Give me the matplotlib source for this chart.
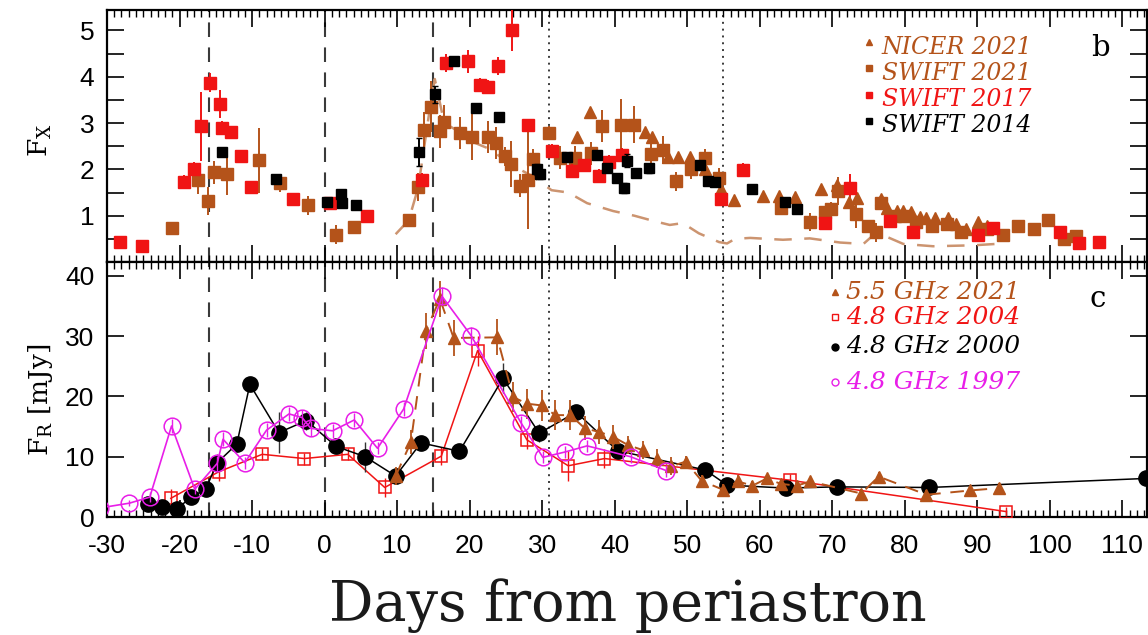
import matplotlib
matplotlib.use("Agg")
import matplotlib.pyplot as plt
from matplotlib import font_manager
from matplotlib.ticker import MultipleLocator, FixedLocator, FuncFormatter

# ---------------- X-ray fluxes (panel b) ----------------
nicer21_x = [34.8, 36.6, 44.2, 45.1, 47.3, 48.7, 50.4, 52.5, 54.6, 56.5, 60.5, 62.7, 64.9, 68.4, 70.6,
             72.3, 73.4, 76.7, 77.5, 78.9, 79.8, 80.8, 82.1, 83.0, 84.2, 85.9, 87.1, 88.5, 90.1, 91.3]
nicer21_y = [2.69, 3.23, 2.8, 2.7, 2.27, 2.27, 2.27, 2.0, 1.57, 1.34, 1.42, 1.42, 1.41, 1.57, 1.67,
             1.29, 1.39, 1.35, 1.17, 1.1, 1.1, 1.07, 0.97, 0.94, 0.94, 0.94, 0.81, 0.72, 0.86, 0.78]

swift21_x = [-21.1, -17.4, -16.1, -15.2, -13.5, -9.0, -6.2, -2.3, 1.6, 4.0, 11.6, 12.9, 13.7, 14.7, 15.9,
             16.5, 18.7, 20.3, 22.6, 23.7, 24.9, 25.7, 26.9, 28.1, 28.7, 30.9, 32.5, 34.6, 36.7, 38.2,
             40.9, 42.7, 45.0, 46.7, 48.5, 50.5, 52.5, 54.4, 62.9, 67.0, 69.0, 69.9, 70.8, 73.3, 75.0,
             76.1, 76.7, 78.6, 79.9, 81.6, 83.7, 85.8, 87.8, 91.3, 93.6, 95.6, 97.8, 99.7, 101.9, 103.6]
swift21_y = [0.74, 1.76, 1.32, 1.94, 1.89, 2.2, 1.71, 1.22, 0.59, 0.76, 0.91, 1.62, 2.84, 3.35, 2.82,
             3.03, 2.78, 2.7, 2.7, 2.57, 2.28, 2.12, 1.65, 1.77, 2.23, 2.78, 2.25, 2.25, 2.35, 2.93,
             2.96, 2.96, 2.34, 2.42, 1.74, 2.0, 2.25, 1.82, 1.17, 0.86, 1.07, 1.15, 1.53, 1.03, 0.78,
             0.64, 1.27, 0.99, 1.0, 0.86, 0.78, 0.82, 0.64, 0.72, 0.58, 0.77, 0.72, 0.91, 0.49, 0.56]
swift21_err = [0.1, 0.3, 0.3, 0.25, 0.45, 0.7, 0.2, 0.2, 0.2, 0.1, 0.1, 0.3, 0.4, 0.55, 0.35,
               0.35, 0.35, 0.5, 0.35, 0.35, 0.2, 0.5, 0.25, 1.05, 0.2, 0.15, 0.25, 0.25, 0.25, 0.35,
               0.55, 0.4, 0.2, 0.3, 0.2, 0.2, 0.2, 0.2, 0.15, 0.2, 0.1, 0.15, 0.3, 0.3, 0.1,
               0.2, 0.15, 0.1, 0.1, 0.1, 0.1, 0.1, 0.1, 0.08, 0.08, 0.08, 0.08, 0.1, 0.1, 0.1]

swift17_x = [-28.2, -25.2, -19.4, -18.0, -17.0, -15.8, -14.4, -14.2, -12.9, -11.5, -10.1, -4.4, 0.7,
             5.9, 13.4, 16.8, 19.8, 21.5, 22.6, 23.9, 25.8, 28.1, 31.3, 34.1, 35.8, 37.9, 39.2, 41.0,
             54.6, 57.7, 69.0, 72.5, 77.9, 81.1, 90.1, 92.2, 101.4, 104.0, 106.8]
swift17_y = [0.44, 0.35, 1.73, 2.0, 2.93, 3.87, 3.41, 2.9, 2.8, 2.28, 1.62, 1.35, 1.27,
             0.99, 1.78, 4.3, 4.33, 3.82, 3.77, 4.23, 5.0, 2.96, 2.39, 1.96, 2.1, 1.85, 2.15, 2.32,
             1.35, 1.98, 0.84, 1.6, 0.89, 0.64, 0.58, 0.74, 0.65, 0.42, 0.44]
swift17_err = [0.05, 0.05, 0.15, 0.15, 0.75, 0.2, 0.3, 0.15, 0.1, 0.1, 0.1, 0.08, 0.08,
               0.1, 0.15, 0.2, 0.25, 0.15, 0.15, 0.2, 0.45, 0.1, 0.15, 0.15, 0.12, 0.15, 0.15, 0.15,
               0.1, 0.15, 0.1, 0.3, 0.1, 0.1, 0.08, 0.08, 0.1, 0.08, 0.08]

swift14_x = [-14.2, -6.7, 0.3, 2.2, 2.4, 4.4, 13.0, 15.2, 17.9, 20.9, 24.1, 29.3, 29.7, 33.4,
             37.6, 38.9, 40.3, 41.3, 41.7, 43.0, 44.7, 51.8, 52.9, 53.9, 58.9, 63.5, 65.1]
swift14_y = [2.37, 1.8, 1.3, 1.46, 1.28, 1.23, 2.37, 3.62, 4.33, 3.32, 3.14, 2.0, 1.89, 2.26,
             2.32, 2.03, 1.82, 1.6, 2.19, 1.92, 2.02, 2.1, 1.74, 1.72, 1.57, 1.29, 1.15]
swift14_err = [0.08, 0.06, 0.06, 0.06, 0.06, 0.06, 0.3, 0.18, 0.06, 0.06, 0.06, 0.12, 0.1, 0.06,
               0.06, 0.08, 0.06, 0.1, 0.15, 0.06, 0.1, 0.06, 0.06, 0.06, 0.05, 0.05, 0.05]

model_x = [9.8, 11.6, 12.9, 13.8, 14.6, 15.2, 16.5, 18.7, 20.3, 22.6, 24.9, 26.9, 28.7, 30.0, 31.3,
           33.6, 36.2, 39.8, 42.7, 45.5, 47.6, 49.4, 51.6, 54.4, 55.5, 56.6, 58.7, 63.2, 66.9, 71.1,
           74.3, 76.1, 79.8, 83.9, 89.4, 92.6]
model_y = [0.6, 0.9, 1.6, 2.55, 3.4, 3.95, 3.0, 2.8, 2.6, 2.45, 2.2, 2.0, 1.85, 1.7, 1.55,
           1.5, 1.27, 1.1, 1.0, 0.88, 0.8, 0.84, 0.62, 0.43, 0.4, 0.5, 0.52, 0.48, 0.51, 0.42,
           0.39, 0.64, 0.39, 0.34, 0.36, 0.39]

# ---------------- Radio fluxes (panel c) ----------------
r21_x = [9.8, 11.9, 14.0, 15.9, 17.8, 23.8, 26.0, 27.9, 30.0, 31.8, 33.9, 35.9, 37.9, 39.8, 41.9, 43.9,
         45.9, 47.8, 49.8, 52.0, 55.0, 57.0, 59.0, 61.0, 62.9, 65.1, 67.0, 74.0, 76.4, 83.0, 89.0, 93.0]
r21_y = [6.8, 12.4, 30.9, 36.2, 29.7, 29.8, 19.9, 18.8, 18.5, 16.9, 16.9, 14.7, 14.1, 13.3, 11.9, 11.1,
         9.7, 8.4, 9.2, 6.0, 4.5, 5.9, 5.2, 6.4, 5.5, 5.2, 5.9, 3.9, 6.7, 3.7, 4.4, 4.8]
r21_err = [1.5, 2.0, 3.0, 3.0, 3.0, 3.0, 2.5, 2.5, 2.5, 2.5, 2.5, 2.0, 2.0, 2.0, 1.5, 1.5,
           1.5, 1.5, 1.0, 1.0, 1.0, 1.0, 0.8, 0.8, 0.8, 0.8, 0.8, 0.8, 0.8, 0.8, 0.8, 0.8]

r04_x = [-21.2, -14.6, -8.6, -2.8, 3.2, 8.3, 16.1, 21.1, 27.9, 33.6, 38.6, 64.2, 94.0]
r04_y = [3.1, 7.5, 10.4, 9.7, 10.4, 4.9, 10.1, 27.6, 12.8, 8.5, 9.7, 6.1, 0.9]
r04_err = [1.5, 1.5, 1.0, 1.0, 1.0, 1.5, 1.5, 2.5, 1.5, 2.5, 1.5, 1.0, 0.8]

r00_x = [-24.3, -22.4, -20.4, -18.4, -16.4, -14.8, -12.1, -10.3, -6.3, -2.5, 1.6, 5.6, 9.8, 13.3,
         18.6, 24.6, 29.6, 34.7, 40.4, 52.5, 55.5, 63.6, 70.6, 83.4, 113.3]
r00_y = [2.2, 1.6, 1.3, 3.3, 4.6, 9.0, 12.1, 22.0, 14.0, 16.0, 11.7, 10.0, 6.8, 12.3,
         10.9, 23.0, 13.9, 17.4, 11.0, 7.8, 5.3, 4.8, 5.0, 4.9, 6.4]
r00_err = [0.3, 0.3, 0.3, 0.3, 0.5, 1.5, 1.0, 0.5, 3.4, 1.5, 0.5, 2.5, 0.5, 0.5,
           0.5, 2.5, 1.5, 0.8, 0.5, 0.5, 0.5, 0.5, 0.5, 0.5, 0.5]

r97_x = [-31.0, -26.9, -24.1, -21.1, -17.9, -14.8, -14.0, -11.0, -8.0, -4.9, -3.1, -1.9, 1.1, 4.1,
         7.3, 10.9, 16.2, 20.2, 27.1, 30.1, 33.2, 36.2, 42.2, 47.1]
r97_y = [1.5, 2.3, 3.3, 15.1, 4.6, 8.9, 12.9, 9.0, 14.4, 17.1, 16.5, 14.7, 14.3, 16.1,
         11.4, 17.9, 36.6, 30.1, 15.6, 9.9, 10.8, 11.8, 10.0, 7.7]
r97_err = [0.5, 0.5, 0.8, 1.2, 0.8, 1.2, 1.2, 1.0, 1.2, 1.2, 1.2, 1.2, 1.2, 1.2,
           1.0, 1.2, 1.5, 1.5, 1.2, 1.0, 1.0, 1.0, 1.0, 1.0]

phase_dashed = [-16, 0, 15]
phase_dotted = [31, 55]

x_major = list(range(-30, 111, 10))

BROWN = '#b4531a'
MODEL = '#cc9470'
RED = '#f01414'
BLACK = '#000000'
MAGENTA = '#e81ee8'

names = {f.name for f in font_manager.fontManager.ttflist}
tick_narrow = 'Liberation Sans Narrow' if 'Liberation Sans Narrow' in names else 'Liberation Sans'
plt.rcParams['mathtext.fontset'] = 'dejavuserif'

fig = plt.figure(figsize=(11.48, 6.35), dpi=100)
ax1 = fig.add_axes([0.0932, 0.5874, 0.9059, 0.3976])
ax2 = fig.add_axes([0.0932, 0.1858, 0.9059, 0.4016], sharex=ax1)

for ax in (ax1, ax2):
    for v in phase_dashed:
        ax.axvline(v, color='#3a3a3a', lw=1.5, ls=(0, (7, 5)), zorder=1)
    for v in phase_dotted:
        ax.axvline(v, color='#3a3a3a', lw=1.4, ls=(0, (1, 2.5)), zorder=1)
    for s in ax.spines.values():
        s.set_linewidth(1.6)
    ax.tick_params(which='both', direction='in', top=True, right=True)
    ax.tick_params(which='major', length=12, width=1.2)
    ax.tick_params(which='minor', length=5, width=1.0)
    ax.xaxis.set_major_locator(FixedLocator(x_major))
    ax.xaxis.set_minor_locator(MultipleLocator(1))

ax1.set_xlim(-30, 113.4)

# ---- panel b ----
ax1.plot(model_x, model_y, color=MODEL, lw=1.8, ls=(0, (7, 5)), zorder=2)
ax1.errorbar(swift21_x, swift21_y, yerr=swift21_err, fmt='s', color=BROWN, ms=8,
             elinewidth=1.4, capsize=0, zorder=3)
ax1.errorbar(swift17_x, swift17_y, yerr=swift17_err, fmt='s', color=RED, ms=8,
             elinewidth=1.4, capsize=0, zorder=4)
ax1.errorbar(swift14_x, swift14_y, yerr=swift14_err, fmt='s', color=BLACK, ms=7.5,
             elinewidth=1.4, capsize=2, zorder=5)
ax1.plot(nicer21_x, nicer21_y, '^', color=BROWN, ms=9, ls='none', zorder=4)

ax1.set_ylim(0, 5.45)
ax1.yaxis.set_major_locator(MultipleLocator(0.5))
ax1.yaxis.set_major_formatter(FuncFormatter(
    lambda v, p: '%d' % round(v) if abs(v - round(v)) < 1e-6 and v > 0.5 else ''))
ax1.tick_params(axis='x', which='both', labelbottom=False)
ax1.tick_params(axis='y', labelsize=19, pad=9)
for lab in ax1.get_yticklabels():
    lab.set_family('Liberation Sans')

leg_b = [('^', BROWN, 'NICER 2021'), ('s', BROWN, 'SWIFT 2021'),
         ('s', RED, 'SWIFT 2017'), ('s', BLACK, 'SWIFT 2014')]
for i, (m, c, t) in enumerate(leg_b):
    yy = 0.851 - i * 0.104
    ax1.plot([0.733], [yy + 0.02], m, color=c, ms=4.5, transform=ax1.transAxes, clip_on=False)
    ax1.text(0.745, yy, t, color=c, fontsize=17, family='DejaVu Serif', style='italic',
             transform=ax1.transAxes, va='center', ha='left')
ax1.text(0.955, 0.848, 'b', fontsize=21, family='DejaVu Serif', transform=ax1.transAxes,
         va='center', ha='center')

# ---- panel c ----
ax2.errorbar(r04_x, r04_y, yerr=r04_err, fmt='s-', color=RED, ms=8, mfc='none', mew=1.1,
             lw=1.1, elinewidth=1.0, capsize=0, zorder=3)
ax2.errorbar(r00_x, r00_y, yerr=r00_err, fmt='o-', color=BLACK, ms=11, lw=1.1,
             elinewidth=1.0, capsize=0, zorder=4, ecolor='#333333')
ax2.errorbar(r21_x, r21_y, yerr=r21_err, fmt='^', color=BROWN, ms=8.5, ls=(0, (7, 5)),
             lw=1.4, elinewidth=1.3, capsize=0, zorder=5)
ax2.errorbar(r97_x, r97_y, yerr=r97_err, fmt='o-', color=MAGENTA, ms=12, mfc='none', mew=1.1,
             lw=1.2, elinewidth=1.0, capsize=0, zorder=6)

ax2.set_ylim(0, 42.3)
ax2.yaxis.set_major_locator(FixedLocator([0, 10, 20, 30, 40]))
ax2.tick_params(axis='y', labelsize=19, pad=9)
ax2.tick_params(axis='x', which='major', labelsize=19, pad=12)
ax2.xaxis.set_major_formatter(FuncFormatter(lambda v, p: '%d' % v))
for lab in ax2.get_yticklabels():
    lab.set_family('Liberation Sans')
for lab in ax2.get_xticklabels():
    lab.set_family(tick_narrow)

leg_c = [('^', BROWN, 'full', '5.5 GHz 2021'), ('s', RED, 'none', '4.8 GHz 2004'),
         ('o', BLACK, 'full', '4.8 GHz 2000'), ('o', MAGENTA, 'none', '4.8 GHz 1997')]
leg_c_y = [0.882, 0.784, 0.667, 0.529]
for (m, c, fill, t), yy in zip(leg_c, leg_c_y):
    ax2.plot([0.700], [yy], m, color=c, ms=5, fillstyle=fill, mew=1.0,
             transform=ax2.transAxes, clip_on=False)
    ax2.text(0.711, yy, t, color=c, fontsize=18, family='DejaVu Serif', style='italic',
             transform=ax2.transAxes, va='center', ha='left')
ax2.text(0.953, 0.855, 'c', fontsize=21, family='DejaVu Serif', transform=ax2.transAxes,
         va='center', ha='center')

# ---- axis titles ----
fig.text(0.035, 0.78, r'F$_{\rm X}$', rotation=90, fontsize=19, family='DejaVu Serif',
         ha='center', va='center')
fig.text(0.035, 0.37, r'F$_{\rm R}$ [mJy]', rotation=90, fontsize=19, family='DejaVu Serif',
         ha='center', va='center')
fig.text(0.547, 0.047, 'Days from periastron', fontsize=40, family='DejaVu Serif',
         color='#1a1a1a', ha='center', va='center')

fig.savefig('out.png', dpi=100)
